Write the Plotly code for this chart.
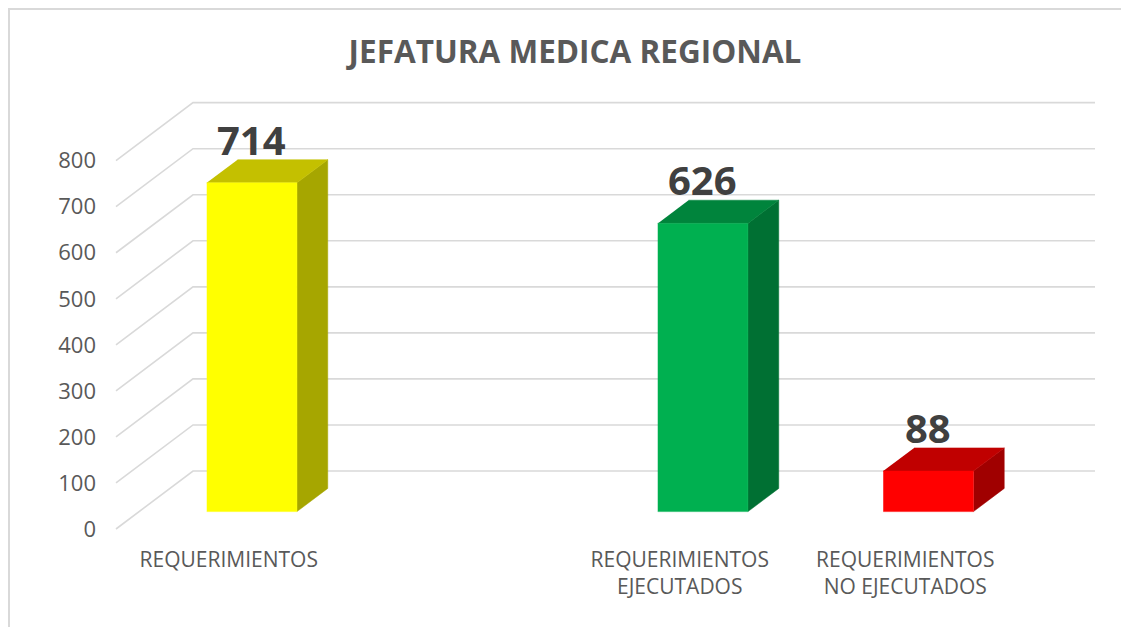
import plotly.graph_objects as go

# ---- data ----
categories = ["REQUERIMIENTOS", "", "REQUERIMIENTOS<br>EJECUTADOS", "REQUERIMIENTOS<br>NO EJECUTADOS"]
values = [714, None, 626, 88]
front_colors = ["#FFFF00", None, "#00B050", "#FF0000"]
top_colors = ["#C4C000", None, "#00843C", "#C00000"]
side_colors = ["#A6A600", None, "#007033", "#A00000"]
axis_ticks = [0, 100, 200, 300, 400, 500, 600, 700, 800]
title_text = "JEFATURA MEDICA REGIONAL"

# ---- oblique 3D projection parameters ----
K = 0.3415     # horizontal shift (category units) across full depth
D = 126.0      # vertical shift (value units) across full depth
D_FRONT, D_BACK = 0.70, 0.30
BAR_L, BAR_R = 0.30, 0.70

W, H = 1121, 619
ML, MR, MT, MB = 92, 14, 82, 87
PW, PH = W - ML - MR, H - MT - MB


def proj(x, v, d):
    return x - K * d, v - D * d


fig = go.Figure()

# gridlines: diagonal on side wall + horizontal on back wall
for t in axis_ticks:
    xs, ys = [], []
    for (x, v, d) in [(0, t, 1.0), (0, t, 0.0), (len(categories), t, 0.0)]:
        px, py = proj(x, v, d)
        xs.append(px)
        ys.append(py)
    fig.add_trace(go.Scatter(x=xs, y=ys, mode="lines",
                             line=dict(color="#D9D9D9", width=1.6),
                             hoverinfo="skip", showlegend=False))


def face(pts, color):
    xs, ys = [], []
    for p in pts:
        a, b = proj(*p)
        xs.append(a)
        ys.append(b)
    fig.add_trace(go.Scatter(x=xs, y=ys, mode="lines", fill="toself",
                             fillcolor=color, line=dict(color=color, width=0.5),
                             hoverinfo="skip", showlegend=False))


for i, v in enumerate(values):
    if v is None:
        continue
    x0, x1 = i + BAR_L, i + BAR_R
    face([(x1, 0, D_FRONT), (x1, 0, D_BACK), (x1, v, D_BACK), (x1, v, D_FRONT)], side_colors[i])
    face([(x0, v, D_FRONT), (x1, v, D_FRONT), (x1, v, D_BACK), (x0, v, D_BACK)], top_colors[i])
    face([(x0, 0, D_FRONT), (x1, 0, D_FRONT), (x1, v, D_FRONT), (x0, v, D_FRONT)], front_colors[i])
    lx, _ = proj(i + 0.5, v, D_FRONT)
    _, ly = proj(i + 0.5, v, D_BACK)
    fig.add_annotation(x=lx, y=ly, text=str(v), showarrow=False,
                       xanchor="center", yanchor="bottom", yshift=-9,
                       font=dict(family="Open Sans", size=40, color="#404040", weight="bold"))

ytickvals = [proj(0, t, 1.0)[1] for t in axis_ticks]
xtickvals = [proj(i + 0.5, 0, 1.0)[0] for i in range(len(categories))]

fig.update_layout(
    width=W, height=H,
    paper_bgcolor="white", plot_bgcolor="white",
    margin=dict(l=ML, r=MR, t=MT, b=MB, pad=0),
    title=dict(text="<b>" + title_text + "</b>", x=567 / W, xanchor="center",
               y=1 - 44 / H, yanchor="middle",
               font=dict(family="Open Sans", size=31.5, color="#595959")),
    xaxis=dict(range=[-0.41242, 4.08869], showgrid=False, zeroline=False, showline=False,
               tickvals=xtickvals, ticktext=categories, ticks="", ticklabelstandoff=5,
               tickfont=dict(family="Open Sans", size=21, color="#595959"), fixedrange=True),
    yaxis=dict(range=[-149.87, 827.5], showgrid=False, zeroline=False, showline=False,
               tickvals=ytickvals, ticktext=[str(t) for t in axis_ticks], ticks="",
               ticklabelstandoff=3,
               tickfont=dict(family="Open Sans", size=22, color="#595959"), fixedrange=True),
    showlegend=False,
    shapes=[dict(type="rect", xref="paper", yref="paper",
                 x0=(1 - ML) / PW, x1=1.2, y0=-0.3, y1=(H - MB - 1) / PH,
                 line=dict(color="#D9D9D9", width=2), fillcolor="rgba(0,0,0,0)")],
)

fig.write_html("out.html")
